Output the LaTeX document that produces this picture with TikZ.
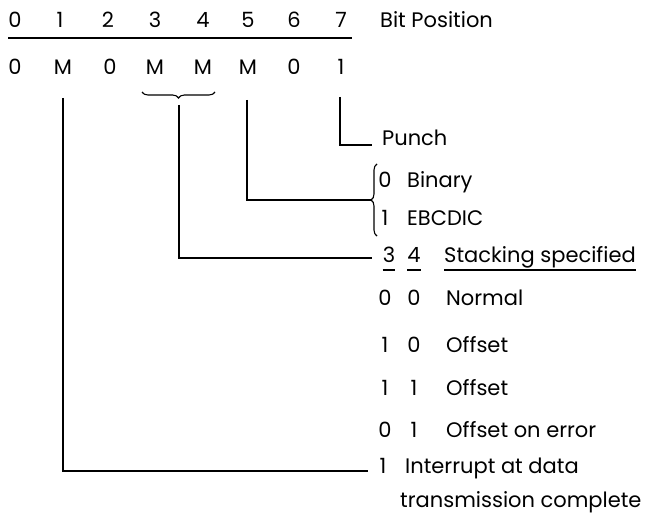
\documentclass[tikz,border=0pt]{standalone}
\usepackage{fontspec}
\setmainfont{Poppins}
\usetikzlibrary{decorations.pathreplacing}
\begin{document}
\begin{tikzpicture}[x=1pt,y=-1pt,
  txt/.style={inner sep=0pt, font=\fontsize{21}{25}\selectfont, anchor=base},
  lbl/.style={txt, anchor=base west},
  ln/.style={line width=1.1pt},
  brc/.style={ln, decorate, decoration={brace, amplitude=6pt}}]
\useasboundingbox (0,0) rectangle (645,524);
% top row
\foreach \i/\x in {0/15,1/60,2/108,3/155,4/203,5/248,6/294,7/341}
  \node[txt] (b\i) at (\x,28) {\i};
\node[lbl] (bitpos) at (380,28) {Bit Position};
\coordinate (ruleL) at (8,38);
\coordinate (ruleR) at (352,38);
\draw[ln] (ruleL) -- (ruleR);
% second row
\foreach \t/\x/\i in {0/15/0,M/63/1,0/110/2,M/155/3,M/203/4,M/248/5,0/294/6,1/341/7}
  \node[txt] (v\i) at (\x,75) {\t};
% brace under bits 3-4
\coordinate (brR) at (215,92);
\coordinate (brL) at (142,92);
\draw[brc] (brR) -- (brL);
% punch
\node[lbl] (punch) at (382,146) {Punch};
\coordinate (p1) at (340,97);
\coordinate (p2) at (372,145);
\draw[ln] (p1) |- (p2);
% binary / ebcdic
\node[txt] (bin0) at (385,187) {0};
\node[lbl] (binary) at (407,187) {Binary};
\node[txt] (eb1) at (385,225) {1};
\node[lbl] (ebcdic) at (407,225) {EBCDIC};
\coordinate (bb) at (377,236);
\coordinate (bt) at (377,164);
\draw[brc] (bb) -- (bt);
\coordinate (btip) at (371,200);
\coordinate (m5) at (247,100);
\draw[ln] (m5) |- (btip);
% stacking
\node[txt] (s3) at (389,262) {3};
\node[txt] (s4) at (414,262) {4};
\node[lbl] (stack) at (444,262) {Stacking specified};
\foreach \n in {s3,s4,stack}
  \draw[ln] ([yshift=-8pt]\n.base west) -- ([yshift=-8pt]\n.base east);
\coordinate (bt2) at (179,105);
\coordinate (send) at (372,258);
\draw[ln] (bt2) |- (send);
% options
\node[txt] (n3) at (385,305) {0};
\node[txt] (n4) at (414,305) {0};
\node[lbl] (normal) at (446,305) {Normal};
\node[txt] (o3) at (385,352) {1};
\node[txt] (o4) at (414,352) {0};
\node[lbl] (offset1) at (446,352) {Offset};
\node[txt] (q3) at (385,395) {1};
\node[txt] (q4) at (414,395) {1};
\node[lbl] (offset2) at (446,395) {Offset};
\node[txt] (e3) at (385,437) {0};
\node[txt] (e4) at (414,437) {1};
\node[lbl] (offerr) at (446,437) {Offset on error};
% interrupt
\node[txt] (i1) at (383,473) {1};
\node[lbl] (intr) at (405,473) {Interrupt at data};
\node[lbl] (trans) at (400,507) {transmission complete};
\coordinate (m1) at (63,98);
\coordinate (iend) at (368,471);
\draw[ln] (m1) |- (iend);
\end{tikzpicture}
\end{document}
